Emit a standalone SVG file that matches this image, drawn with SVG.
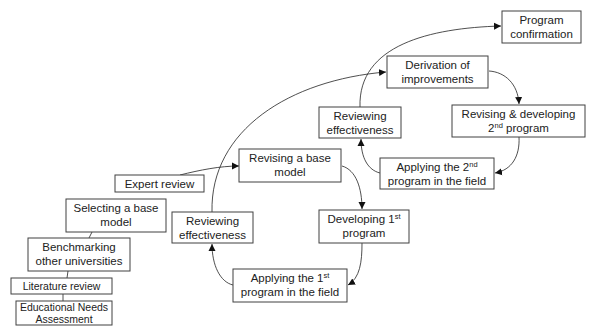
<svg xmlns="http://www.w3.org/2000/svg" width="596" height="335" viewBox="0 0 596 335">
<style>
.b{fill:#fff;stroke:#404040;stroke-width:1}
text{font-family:"Liberation Sans",Arial,sans-serif;font-size:11.5px;fill:#222;text-anchor:middle}
.c{fill:none;stroke:#222;stroke-width:0.8}
.s{font-size:7.5px}
.m{font-size:10.5px}
</style>
<defs>
<marker id="a" markerWidth="8" markerHeight="8" refX="7" refY="4" orient="auto" markerUnits="userSpaceOnUse">
<path d="M0,0.5 L7,4 L0,7.5 Z" fill="#111"/>
</marker>
</defs>
<rect width="596" height="335" fill="#fff"/>
<g id="connectors">
<path class="c" d="M212,212 C210,130 290,80 386,72" marker-end="url(#a)"/>
<path class="c" d="M360,107 C358,45 430,28 501,26" marker-end="url(#a)"/>
<path class="c" d="M180,175 C200,170 220,166 239,166" marker-end="url(#a)"/>
<path class="c" d="M342,166 C356,170 362,188 362,209" marker-end="url(#a)"/>
<path class="c" d="M362,243 C362,262 360,278 348,285" marker-end="url(#a)"/>
<path class="c" d="M233,285 C220,282 212,265 212,244" marker-end="url(#a)"/>
<path class="c" d="M489,71 C505,72 518,84 519,104" marker-end="url(#a)"/>
<path class="c" d="M519,137 C520,156 512,170 495,173" marker-end="url(#a)"/>
<path class="c" d="M380,173 C368,170 361,158 361,139" marker-end="url(#a)"/>
<path class="c" d="M63,294 L63,301"/>
<path class="c" d="M68,271 L67,278"/>
<path class="c" d="M92,232 L89,238"/>
</g>
<g id="n-program-confirmation"><rect class="b" x="502" y="11" width="79" height="32"/><text x="541.5" y="24">Program</text><text x="541.5" y="38">confirmation</text></g>
<g id="n-derivation"><rect class="b" x="387" y="56" width="101" height="32"/><text x="437.5" y="69">Derivation of</text><text x="437.5" y="83">improvements</text></g>
<g id="n-revising-2"><rect class="b" x="452" y="105" width="133" height="32"/><text x="518.5" y="118">Revising &amp; developing</text><text x="518.5" y="132">2<tspan class="s" dy="-4">nd</tspan><tspan dy="4"> program</tspan></text></g>
<g id="n-reviewing-2"><rect class="b" x="319" y="107" width="82" height="31"/><text x="360" y="120">Reviewing</text><text x="360" y="134">effectiveness</text></g>
<g id="n-applying-2"><rect class="b" x="380" y="158" width="114" height="31"/><text x="437" y="171">Applying the 2<tspan class="s" dy="-4">nd</tspan></text><text x="437" y="185">program in the field</text></g>
<g id="n-revising-base"><rect class="b" x="239" y="149" width="102" height="33"/><text x="290" y="162">Revising a base</text><text x="290" y="176">model</text></g>
<g id="n-developing-1"><rect class="b" x="319" y="210" width="90" height="33"/><text x="364" y="223">Developing 1<tspan class="s" dy="-4">st</tspan></text><text x="364" y="237">program</text></g>
<g id="n-reviewing-1"><rect class="b" x="172" y="212" width="81" height="31"/><text x="212.5" y="225">Reviewing</text><text x="212.5" y="239">effectiveness</text></g>
<g id="n-applying-1"><rect class="b" x="233" y="269" width="114" height="33"/><text x="290" y="282">Applying the 1<tspan class="s" dy="-4">st</tspan></text><text x="290" y="296">program in the field</text></g>
<g id="n-expert"><rect class="b" x="115" y="175" width="89" height="17"/><text x="159.5" y="188">Expert review</text></g>
<g id="n-selecting"><rect class="b" x="66" y="199" width="100" height="33"/><text x="116" y="212">Selecting a base</text><text x="116" y="226">model</text></g>
<g id="n-benchmarking"><rect class="b" x="28" y="238" width="102" height="33"/><text x="79" y="251">Benchmarking</text><text x="79" y="265">other universities</text></g>
<g id="n-literature"><rect class="b" x="11" y="278" width="101" height="16"/><text class="m" x="61.5" y="290">Literature review</text></g>
<g id="n-needs"><rect class="b" x="16" y="301" width="96" height="24"/><text class="m" x="64" y="311">Educational Needs</text><text class="m" x="64" y="323">Assessment</text></g>
</svg>
